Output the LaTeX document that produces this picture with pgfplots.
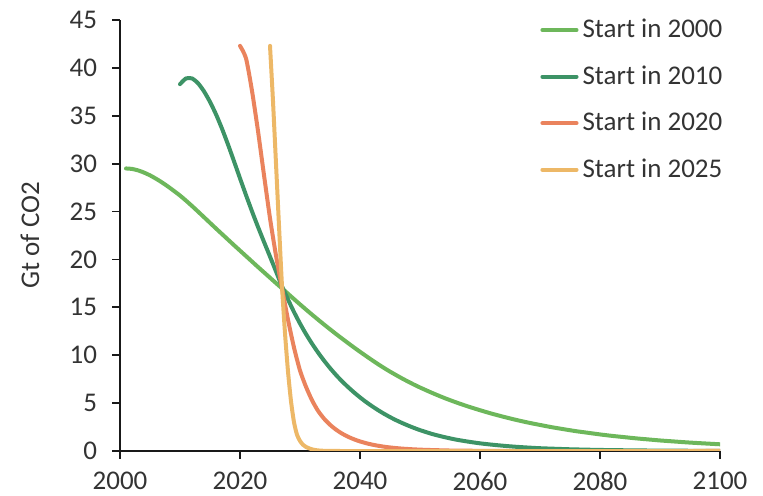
\documentclass[border=0pt]{standalone}
\usepackage{pgfplots}
\pgfplotsset{compat=1.18}
\usepackage{fontspec}
\setmainfont{Carlito}
\definecolor{cA}{HTML}{6DB75B}
\definecolor{cB}{HTML}{3D9366}
\definecolor{cC}{HTML}{EA835D}
\definecolor{cD}{HTML}{EDB867}
\definecolor{txt}{HTML}{333333}
\begin{document}
\begin{tikzpicture}
\useasboundingbox (-60pt,-22.5pt) rectangle (321.5pt,225.5pt);
\begin{axis}[
  at={(0,0)}, anchor=south west,
  scale only axis, width=300pt, height=215.5pt,
  xmin=2000, xmax=2100, ymin=0, ymax=45,
  axis lines=left, axis line style={-, line width=0.9pt, black!90},
  xtick={2000,2020,...,2100}, ytick={0,5,...,45},
  tick align=outside, major tick length=4pt,
  tick style={line width=0.9pt, black!90},
  /pgf/number format/1000 sep={},
  /pgf/number format/assume math mode=true,
  tick label style={font=\fontsize{13.5}{16}\selectfont, text=txt},
  xticklabel style={inner sep=0.5pt, yshift=-6pt},
  yticklabel style={xshift=-4pt},
  ylabel={Gt of CO2},
  every axis y label/.style={at={(rel axis cs:0,0.5)}, xshift=-45pt, rotate=90, anchor=center,
    font=\fontsize{13.5}{16}\selectfont, text=txt},
  legend style={draw=none, fill=none, at={(rel axis cs:0.70,1.012)}, anchor=north west,
    font=\fontsize{13.5}{16}\selectfont, text=txt, row sep=8.5pt, inner sep=0pt},
  legend cell align=left,
  every axis plot/.append style={line width=2pt, line join=round, line cap=round, smooth, tension=0.4},
]
\addplot[cA] coordinates {
(2001,29.5)(2002,29.45)(2003,29.3)(2004,29.07)(2005,28.78)(2006,28.43)(2007,28.04)(2008,27.61)(2009,27.15)
(2010,26.67)(2011,26.14)(2012,25.58)(2013,25.0)(2014,24.41)(2015,23.82)(2016,23.23)(2017,22.65)(2018,22.07)(2019,21.49)
(2020,20.92)(2021,20.35)(2022,19.78)(2023,19.21)(2024,18.65)(2025,18.09)(2026,17.53)(2027,16.98)(2028,16.42)(2029,15.86)
(2030,15.31)(2031,14.77)(2032,14.24)(2033,13.72)(2034,13.21)(2035,12.71)(2036,12.22)(2037,11.74)(2038,11.27)(2039,10.81)
(2040,10.36)(2041,9.92)(2042,9.49)(2043,9.07)(2044,8.67)(2045,8.29)(2046,7.93)(2047,7.58)(2048,7.25)(2049,6.93)
(2050,6.63)(2052,6.07)(2054,5.55)(2056,5.08)(2058,4.65)(2060,4.26)(2062,3.89)(2064,3.56)(2066,3.25)(2068,2.97)
(2070,2.72)(2072,2.48)(2074,2.27)(2076,2.07)(2078,1.90)(2080,1.73)(2082,1.58)(2084,1.45)(2086,1.32)(2088,1.21)
(2090,1.10)(2092,1.01)(2094,0.92)(2096,0.84)(2098,0.77)(2100,0.70)
};
\addlegendentry{Start in 2000}
\addplot[cB] coordinates {
(2010,38.3)(2011,38.9)(2012,38.9)(2013,38.4)(2014,37.55)(2015,36.45)(2016,35.15)(2017,33.65)(2018,32.0)(2019,30.25)
(2020,28.47)(2021,26.72)(2022,25.02)(2023,23.39)(2024,21.83)(2025,20.3)(2026,18.75)(2027,17.2)(2028,15.82)(2029,14.51)
(2030,13.31)(2031,12.21)(2032,11.21)(2033,10.29)(2034,9.44)(2035,8.66)(2036,7.94)(2037,7.28)(2038,6.68)(2039,6.12)
(2040,5.60)(2041,5.12)(2042,4.68)(2043,4.27)(2044,3.89)(2045,3.54)(2046,3.22)(2047,2.93)(2048,2.66)(2049,2.41)
(2050,2.18)(2052,1.78)(2054,1.46)(2056,1.19)(2058,0.98)(2060,0.80)(2062,0.66)(2064,0.54)(2066,0.44)(2068,0.36)
(2070,0.29)(2075,0.18)(2080,0.11)(2085,0.07)(2090,0.04)(2095,0.025)(2100,0.015)
};
\addlegendentry{Start in 2010}
\addplot[cC] coordinates {
(2020,42.3)(2021,41.0)(2022,37.6)(2023,33.4)(2024,28.8)(2025,24.3)(2026,20.4)(2027,17.0)(2028,13.7)(2029,10.8)
(2030,8.4)(2031,6.7)(2032,5.3)(2033,4.2)(2034,3.38)(2035,2.74)(2036,2.23)(2037,1.82)(2038,1.49)(2039,1.22)
(2040,1.0)(2041,0.82)(2042,0.67)(2043,0.55)(2044,0.45)(2045,0.37)(2047,0.25)(2050,0.14)(2055,0.05)(2060,0.02)(2065,0)(2100,0)
};
\addlegendentry{Start in 2020}
\addplot[cD] coordinates {
(2025,42.3)(2025.5,36.5)(2026,30.0)(2026.5,23.5)(2027,17.2)(2027.5,12.3)(2028,8.3)(2028.5,5.2)(2029,3.0)
(2029.5,1.7)(2030,1.05)(2030.5,0.65)(2031,0.42)(2032,0.17)(2033,0.06)(2034,0.02)(2036,0)(2100,0)
};
\addlegendentry{Start in 2025}
\end{axis}
\end{tikzpicture}
\end{document}
